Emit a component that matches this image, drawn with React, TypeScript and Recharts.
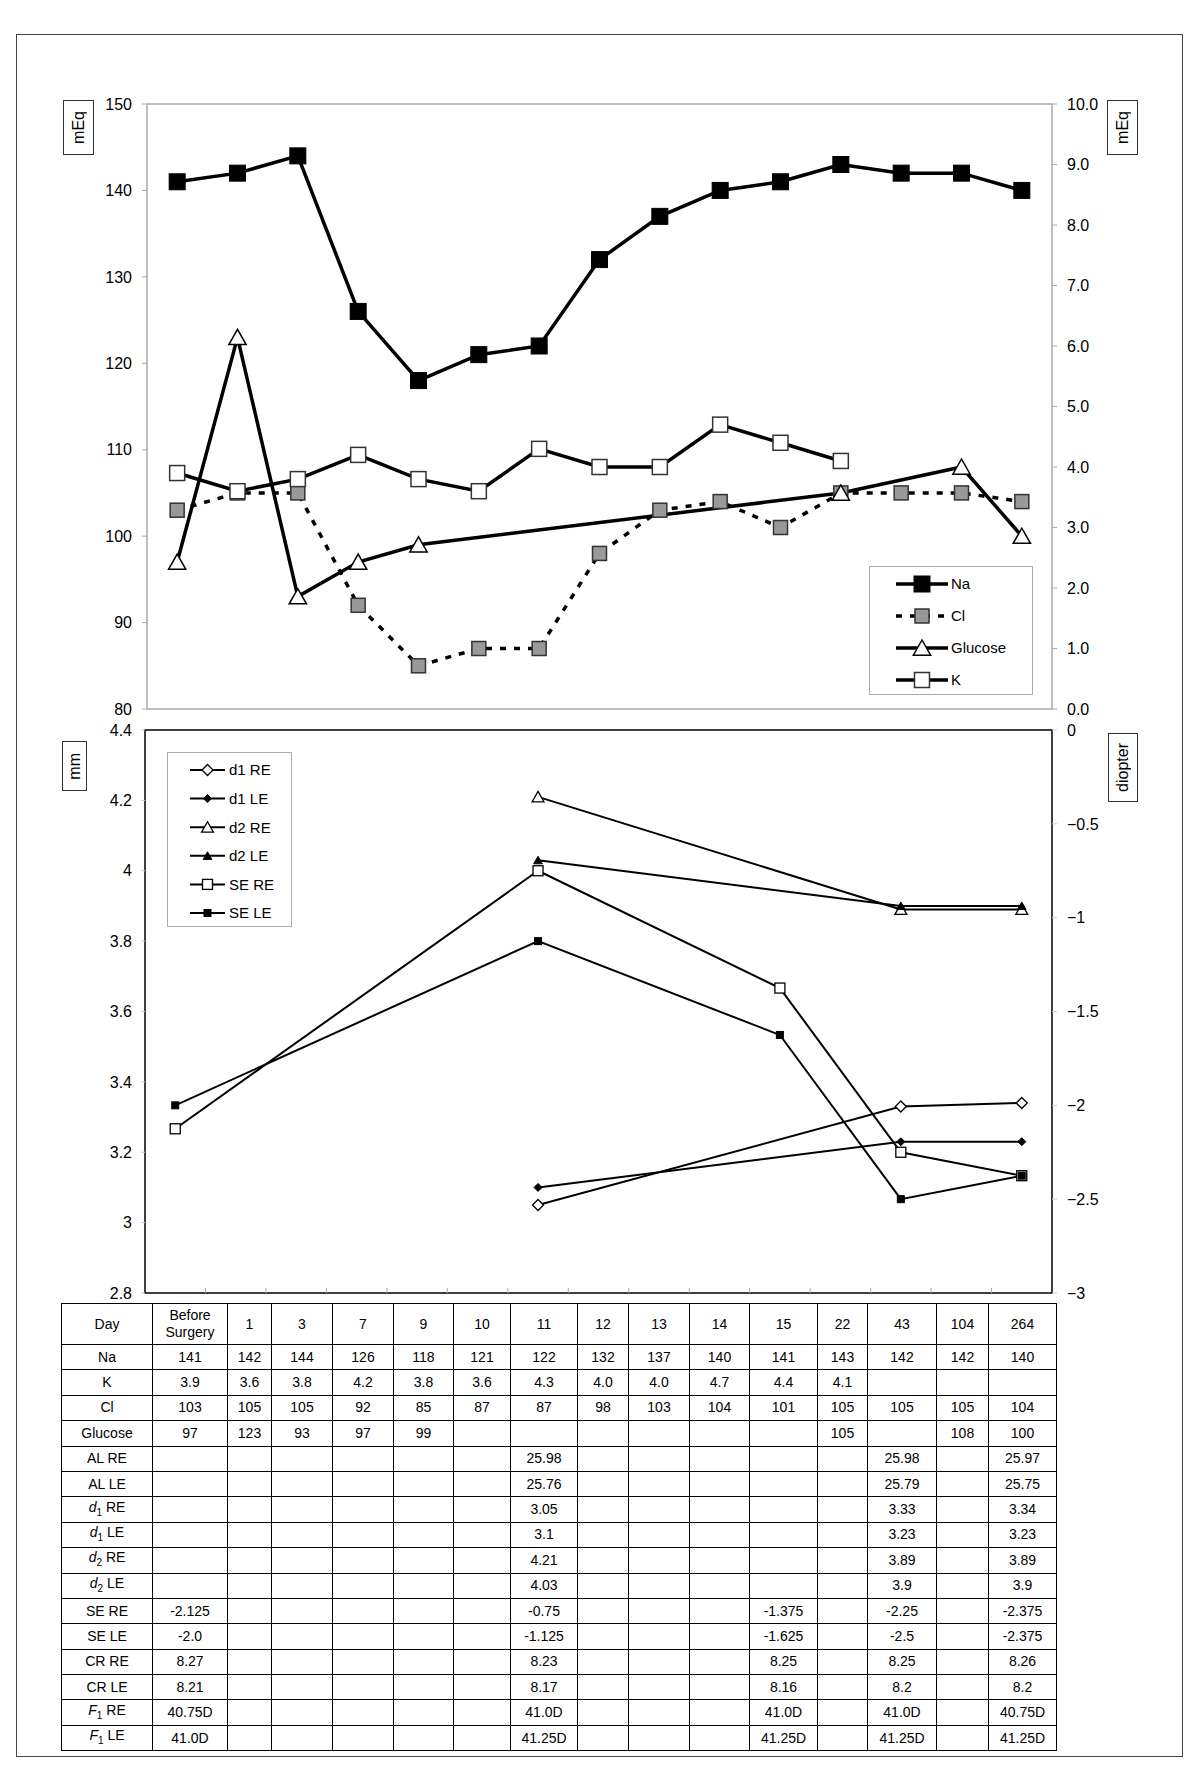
import React from 'react';
import { LineChart, Line, XAxis, YAxis, ReferenceArea } from 'recharts';

// categories (days after surgery)
const days = ['Before Surgery', '1', '3', '7', '9', '10', '11', '12', '13', '14', '15', '22', '43', '104', '264'];

// serum values
const naValues = [141, 142, 144, 126, 118, 121, 122, 132, 137, 140, 141, 143, 142, 142, 140];
const kValues = [3.9, 3.6, 3.8, 4.2, 3.8, 3.6, 4.3, 4.0, 4.0, 4.7, 4.4, 4.1, null, null, null];
const clValues = [103, 105, 105, 92, 85, 87, 87, 98, 103, 104, 101, 105, 105, 105, 104];
const glucoseValues = [97, 123, 93, 97, 99, null, null, null, null, null, null, 105, null, 108, 100];

// ocular values
const alRE = [null, null, null, null, null, null, 25.98, null, null, null, null, null, 25.98, null, 25.97];
const alLE = [null, null, null, null, null, null, 25.76, null, null, null, null, null, 25.79, null, 25.75];
const d1RE = [null, null, null, null, null, null, 3.05, null, null, null, null, null, 3.33, null, 3.34];
const d1LE = [null, null, null, null, null, null, 3.1, null, null, null, null, null, 3.23, null, 3.23];
const d2RE = [null, null, null, null, null, null, 4.21, null, null, null, null, null, 3.89, null, 3.89];
const d2LE = [null, null, null, null, null, null, 4.03, null, null, null, null, null, 3.9, null, 3.9];
const seRE = [-2.125, null, null, null, null, null, -0.75, null, null, null, -1.375, null, -2.25, null, -2.375];
const seLE = [-2.0, null, null, null, null, null, -1.125, null, null, null, -1.625, null, -2.5, null, -2.375];
const crRE = [8.27, null, null, null, null, null, 8.23, null, null, null, 8.25, null, 8.25, null, 8.26];
const crLE = [8.21, null, null, null, null, null, 8.17, null, null, null, 8.16, null, 8.2, null, 8.2];
const f1RE = ['40.75D', '', '', '', '', '', '41.0D', '', '', '', '41.0D', '', '41.0D', '', '40.75D'];
const f1LE = ['41.0D', '', '', '', '', '', '41.25D', '', '', '', '41.25D', '', '41.25D', '', '41.25D'];

// axis ticks
const mEqTicks = [80, 90, 100, 110, 120, 130, 140, 150];
const kTicks = [0, 1, 2, 3, 4, 5, 6, 7, 8, 9, 10];
const mmTicks = [2.8, 3, 3.2, 3.4, 3.6, 3.8, 4, 4.2, 4.4];
const diopterTicks = [-3, -2.5, -2, -1.5, -1, -0.5, 0];
const boundaryTicks = [0.5, 1.5, 2.5, 3.5, 4.5, 5.5, 6.5, 7.5, 8.5, 9.5, 10.5, 11.5, 12.5, 13.5];

const FONT = '"Liberation Sans", Arial, sans-serif';

const topData = days.map((d, i) => ({
  i, day: d, na: naValues[i], k: kValues[i], cl: clValues[i], glucose: glucoseValues[i],
}));
const bottomData = days.map((d, i) => ({
  i, day: d, d1RE: d1RE[i], d1LE: d1LE[i], d2RE: d2RE[i], d2LE: d2LE[i], seRE: seRE[i], seLE: seLE[i],
}));

type Spec = { shape: 'square' | 'triangle' | 'diamond'; size: number; fill: string; stroke: string; sw: number };

const Marker = ({ cx, cy, spec }: { cx: number; cy: number; spec: Spec }) => {
  const s = spec.size / 2;
  const common = { fill: spec.fill, stroke: spec.stroke, strokeWidth: spec.sw };
  if (spec.shape === 'square') return <rect x={cx - s} y={cy - s} width={2 * s} height={2 * s} {...common} />;
  if (spec.shape === 'triangle')
    return <polygon points={`${cx},${cy - s} ${cx - s * 1.08},${cy + s * 0.9} ${cx + s * 1.08},${cy + s * 0.9}`} {...common} />;
  return <polygon points={`${cx},${cy - s} ${cx + s},${cy} ${cx},${cy + s} ${cx - s},${cy}`} {...common} />;
};

const makeDot = (spec: Spec) => (props: any) => {
  const { cx, cy, index, value } = props;
  if (value == null || !Number.isFinite(cx) || !Number.isFinite(cy)) return <g key={`e${index}`} />;
  return <Marker key={`m${index}`} cx={cx} cy={cy} spec={spec} />;
};

const naSpec: Spec = { shape: 'square', size: 16, fill: '#000', stroke: '#000', sw: 1 };
const clSpec: Spec = { shape: 'square', size: 14, fill: '#999', stroke: '#333', sw: 1.5 };
const gluSpec: Spec = { shape: 'triangle', size: 16, fill: '#fff', stroke: '#000', sw: 1.5 };
const kSpec: Spec = { shape: 'square', size: 15, fill: '#fff', stroke: '#333', sw: 1.5 };

const d1RESpec: Spec = { shape: 'diamond', size: 11, fill: '#fff', stroke: '#000', sw: 1.3 };
const d1LESpec: Spec = { shape: 'diamond', size: 8, fill: '#000', stroke: '#000', sw: 1 };
const d2RESpec: Spec = { shape: 'triangle', size: 11, fill: '#fff', stroke: '#000', sw: 1.3 };
const d2LESpec: Spec = { shape: 'triangle', size: 8, fill: '#000', stroke: '#000', sw: 1 };
const seRESpec: Spec = { shape: 'square', size: 10, fill: '#fff', stroke: '#000', sw: 1.3 };
const seLESpec: Spec = { shape: 'square', size: 7, fill: '#000', stroke: '#000', sw: 1 };

const tickStyle = { fontSize: 16, fill: '#000', fontFamily: FONT };

type LegendItem = { name: string; spec: Spec; dash?: string };

const LegendBox = ({ left, top, width, height, items, y0, gap, x1, x2, tx, lw }: any) => (
  <div style={{ position: 'absolute', left, top, width, height, border: '1px solid #aaa', background: '#fff', boxSizing: 'border-box' }}>
    <svg width={width - 2} height={height - 2} style={{ display: 'block' }}>
      {items.map((it: LegendItem, n: number) => {
        const y = y0 + n * gap;
        const mx = (x1 + x2) / 2;
        return (
          <g key={it.name}>
            <line x1={x1} x2={x2} y1={y} y2={y} stroke="#000" strokeWidth={lw} strokeDasharray={it.dash} />
            <Marker cx={mx} cy={y} spec={it.spec} />
            <text x={tx} y={y} dy="0.36em" fontSize={15} fontFamily={FONT} fill="#000">{it.name}</text>
          </g>
        );
      })}
    </svg>
  </div>
);

const UnitBox = ({ left, top, width, height, text }: any) => (
  <div style={{
    position: 'absolute', left, top, width, height, border: '1px solid #333', boxSizing: 'border-box',
    display: 'flex', alignItems: 'center', justifyContent: 'center', background: '#fff',
  }}>
    <span style={{ writingMode: 'vertical-rl', transform: 'rotate(180deg)', fontSize: 16, fontFamily: FONT }}>{text}</span>
  </div>
);

const fmt1 = (v: number | null) => (v == null ? '' : Number.isInteger(v) ? v.toFixed(1) : String(v));
const fmtInt = (v: number | null) => (v == null ? '' : String(v));
const fmtAny = (v: number | null) => (v == null ? '' : String(v));

const sub = (letter: string, n: string, rest: string) => (
  <span><i>{letter}</i><sub style={{ fontSize: 10 }}>{n}</sub> {rest}</span>
);

const tableRows: { label: React.ReactNode; cells: string[] }[] = [
  { label: 'Na', cells: naValues.map(fmtInt) },
  { label: 'K', cells: kValues.map(fmt1) },
  { label: 'Cl', cells: clValues.map(fmtInt) },
  { label: 'Glucose', cells: glucoseValues.map(fmtInt) },
  { label: 'AL RE', cells: alRE.map(fmtAny) },
  { label: 'AL LE', cells: alLE.map(fmtAny) },
  { label: sub('d', '1', 'RE'), cells: d1RE.map(fmt1) },
  { label: sub('d', '1', 'LE'), cells: d1LE.map(fmt1) },
  { label: sub('d', '2', 'RE'), cells: d2RE.map(fmt1) },
  { label: sub('d', '2', 'LE'), cells: d2LE.map(fmt1) },
  { label: 'SE RE', cells: seRE.map(fmt1) },
  { label: 'SE LE', cells: seLE.map(fmt1) },
  { label: 'CR RE', cells: crRE.map(fmt1) },
  { label: 'CR LE', cells: crLE.map(fmt1) },
  { label: sub('F', '1', 'RE'), cells: f1RE },
  { label: sub('F', '1', 'LE'), cells: f1LE },
];

const colWidths = [91, 75, 44, 61, 61, 60, 57, 67, 51, 61, 60, 68, 50, 69, 52, 68];

const cellStyle: React.CSSProperties = {
  border: '1.5px solid #000', padding: 0, textAlign: 'center', verticalAlign: 'middle',
  fontSize: 14, fontFamily: FONT, lineHeight: '17px', color: '#000',
};

const DataTable = () => (
  <table style={{
    position: 'absolute', left: 61, top: 1303, borderCollapse: 'collapse', tableLayout: 'fixed',
    width: colWidths.reduce((a, b) => a + b, 0),
  }}>
    <colgroup>
      {colWidths.map((w, n) => <col key={n} style={{ width: w }} />)}
    </colgroup>
    <tbody>
      <tr style={{ height: 41 }}>
        <td style={cellStyle}>Day</td>
        {days.map((d) => (
          <td key={d} style={cellStyle}>{d === 'Before Surgery' ? <>Before<br />Surgery</> : d}</td>
        ))}
      </tr>
      {tableRows.map((r, n) => (
        <tr key={n} style={{ height: 25.4 }}>
          <td style={cellStyle}>{r.label}</td>
          {r.cells.map((c, m) => <td key={m} style={cellStyle}>{c}</td>)}
        </tr>
      ))}
    </tbody>
  </table>
);

const TopChart = () => (
  <div style={{ position: 'absolute', left: 0, top: 0 }}>
    <LineChart width={1200} height={730} data={topData} margin={{ top: 104, right: 0, bottom: 21, left: 0 }}>
      <XAxis dataKey="i" type="number" domain={[-0.5, 14.5]} hide />
      <YAxis yAxisId="l" domain={[80, 150]} ticks={mEqTicks} interval={0} width={147} axisLine={false}
        tickLine={{ stroke: '#aaa' }} tickSize={5} tickMargin={10} tick={tickStyle} />
      <YAxis yAxisId="r" orientation="right" domain={[0, 10]} ticks={kTicks} interval={0} width={148} axisLine={false}
        tickLine={{ stroke: '#aaa' }} tickSize={5} tickMargin={10} tick={tickStyle}
        tickFormatter={(v: number) => v.toFixed(1)} />
      <ReferenceArea yAxisId="l" x1={-0.5} x2={14.5} y1={80} y2={150} fill="none" stroke="#aaa" strokeWidth={1.5} />
      <Line yAxisId="l" dataKey="cl" stroke="#000" strokeWidth={3.5} strokeDasharray="6 8" dot={makeDot(clSpec)}
        activeDot={false} isAnimationActive={false} />
      <Line yAxisId="l" dataKey="na" stroke="#000" strokeWidth={3.5} dot={makeDot(naSpec)}
        activeDot={false} isAnimationActive={false} />
      <Line yAxisId="r" dataKey="k" stroke="#000" strokeWidth={3.5} dot={makeDot(kSpec)}
        activeDot={false} isAnimationActive={false} />
      <Line yAxisId="l" dataKey="glucose" stroke="#000" strokeWidth={3.5} dot={makeDot(gluSpec)} connectNulls
        activeDot={false} isAnimationActive={false} />
    </LineChart>
  </div>
);

const BottomChart = () => (
  <div style={{ position: 'absolute', left: 0, top: 700 }}>
    <LineChart width={1200} height={620} data={bottomData} margin={{ top: 30, right: 0, bottom: 27, left: 0 }}>
      <XAxis dataKey="i" type="number" domain={[-0.5, 14.5]} ticks={boundaryTicks} interval={0} mirror
        axisLine={false} tickLine={{ stroke: '#aaa' }} tickSize={5} tickFormatter={() => ''} />
      <YAxis yAxisId="l" domain={[2.8, 4.4]} ticks={mmTicks} interval={0} width={145} axisLine={false}
        tickLine={{ stroke: '#ccc' }} tickSize={4} tickMargin={9} tick={tickStyle}
        tickFormatter={(v: number) => String(Math.round(v * 10) / 10)} />
      <YAxis yAxisId="r" orientation="right" domain={[-3, 0]} ticks={diopterTicks} interval={0} width={148} axisLine={false}
        tickLine={{ stroke: '#ccc' }} tickSize={5} tickMargin={10} tick={tickStyle}
        tickFormatter={(v: number) => String(v).replace('-', '\u2212')} />
      <ReferenceArea yAxisId="l" x1={-0.5} x2={14.5} y1={2.8} y2={4.4} fill="none" stroke="#000" strokeWidth={1.5} />
      <Line yAxisId="l" dataKey="d1RE" stroke="#000" strokeWidth={2} dot={makeDot(d1RESpec)} connectNulls activeDot={false} isAnimationActive={false} />
      <Line yAxisId="l" dataKey="d1LE" stroke="#000" strokeWidth={2} dot={makeDot(d1LESpec)} connectNulls activeDot={false} isAnimationActive={false} />
      <Line yAxisId="l" dataKey="d2RE" stroke="#000" strokeWidth={2} dot={makeDot(d2RESpec)} connectNulls activeDot={false} isAnimationActive={false} />
      <Line yAxisId="l" dataKey="d2LE" stroke="#000" strokeWidth={2} dot={makeDot(d2LESpec)} connectNulls activeDot={false} isAnimationActive={false} />
      <Line yAxisId="r" dataKey="seRE" stroke="#000" strokeWidth={2} dot={makeDot(seRESpec)} connectNulls activeDot={false} isAnimationActive={false} />
      <Line yAxisId="r" dataKey="seLE" stroke="#000" strokeWidth={2} dot={makeDot(seLESpec)} connectNulls activeDot={false} isAnimationActive={false} />
    </LineChart>
  </div>
);

const topLegend: LegendItem[] = [
  { name: 'Na', spec: naSpec },
  { name: 'Cl', spec: clSpec, dash: '6 8' },
  { name: 'Glucose', spec: gluSpec },
  { name: 'K', spec: kSpec },
];

const bottomLegend: LegendItem[] = [
  { name: 'd1 RE', spec: d1RESpec },
  { name: 'd1 LE', spec: d1LESpec },
  { name: 'd2 RE', spec: d2RESpec },
  { name: 'd2 LE', spec: d2LESpec },
  { name: 'SE RE', spec: seRESpec },
  { name: 'SE LE', spec: seLESpec },
];

export default function App() {
  return (
    <div style={{ position: 'absolute', left: 0, top: 0, width: 1200, height: 1768, background: '#fff', fontFamily: FONT }}>
      <div style={{ position: 'absolute', left: 16, top: 34, width: 1167, height: 1723, border: '1.5px solid #444', boxSizing: 'border-box' }} />
      <TopChart />
      <BottomChart />
      <LegendBox left={869} top={566} width={164} height={129} items={topLegend}
        y0={17} gap={32} x1={26} x2={78} tx={81} lw={3.5} />
      <LegendBox left={167} top={752} width={125} height={175} items={bottomLegend}
        y0={17} gap={28.6} x1={22} x2={57} tx={61} lw={2} />
      <UnitBox left={63} top={100} width={31} height={55} text="mEq" />
      <UnitBox left={1107} top={100} width={31} height={55} text="mEq" />
      <UnitBox left={62} top={741} width={25} height={50} text="mm" />
      <UnitBox left={1108} top={733} width={30} height={69} text="diopter" />
      <DataTable />
    </div>
  );
}
